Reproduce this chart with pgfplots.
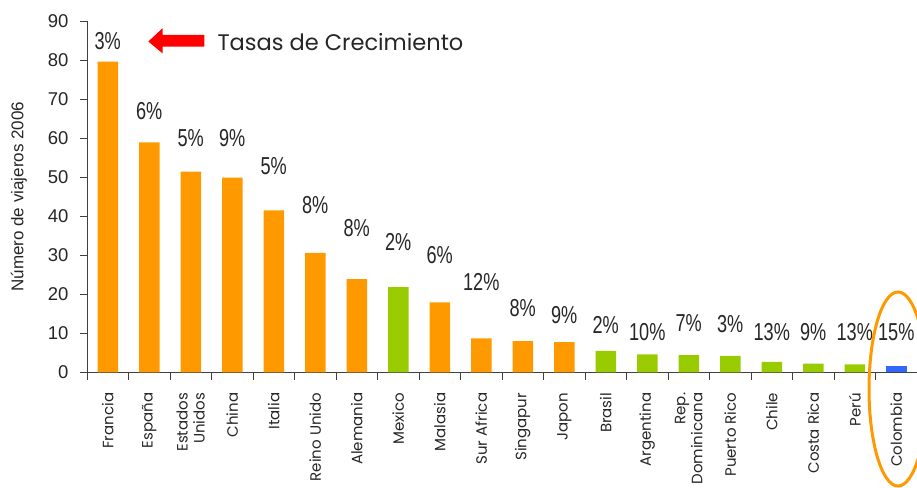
\documentclass[border=0pt]{standalone}
\usepackage{fontspec}
\setmainfont{Liberation Sans}
\newfontfamily\gothic{Poppins}
\newfontfamily\narrowfont[FakeStretch=0.74]{Liberation Sans}
\usepackage{pgfplots}
\usepackage{pgfplotstable}
\pgfplotsset{compat=1.18}
\definecolor{corange}{HTML}{FF9900}
\definecolor{cgreen}{HTML}{99CC00}
\definecolor{cblue}{HTML}{3366FF}
\definecolor{axisgray}{HTML}{404040}
\definecolor{txt}{HTML}{262626}

% viajeros 2006 (millones)
\pgfplotstableread{
x y
0 79.6
1 58.9
2 51.4
3 49.9
4 41.5
5 30.6
6 23.9
8 17.9
9 8.7
10 8.0
11 7.7
}\orangedata
\pgfplotstableread{
x y
7 21.8
12 5.5
13 4.6
14 4.4
15 4.2
16 2.7
17 2.2
18 2.0
}\greendata
\pgfplotstableread{
x y
19 1.5
}\bluedata
% tasas de crecimiento: posicion de la etiqueta
\pgfplotstableread{
x y p
0 84.8 3
1 66.8 6
2 59.9 5
3 59.9 9
4 52.9 5
5 42.9 8
6 36.9 8
7 33.5 2
8 30.1 6
9 23.1 12
10 16.4 8
11 14.7 9
12 12.1 2
13 10.4 10
14 12.6 7
15 12.4 3
16 10.4 13
17 10.4 9
18 10.4 13
19 10.4 15
}\ratedata

\begin{document}
\begin{tikzpicture}
\begin{axis}[
  at={(87pt,114.7pt)}, anchor=south west,
  scale only axis, width=830pt, height=351.3pt,
  xmin=-0.5, xmax=19.5, ymin=0, ymax=90,
  axis x line=bottom, axis y line=left,
  axis line style={axisgray, line width=0.8pt, -},
  ytick={0,10,...,90},
  xtick={0,...,19},
  xticklabels={Francia, España, {Estados\\Unidos}, China, Italia, Reino Unido, Alemania, Mexico, Malasia, Sur Africa, Singapur, Japon, Brasil, Argentina, {Rep.\\Dominicana}, Puerto Rico, Chile, Costa Rica, Perú, Colombia},
  minor xtick={-0.5,0.5,...,19.5},
  tick align=outside,
  major x tick style={draw=none},
  minor x tick style={axisgray, line width=0.8pt},
  y tick style={axisgray, line width=0.8pt},
  minor tick length=8pt,
  major tick length=7pt,
  /pgf/number format/assume math mode=true,
  y tick label style={font=\fontsize{18.5}{21}\selectfont, text=txt, xshift=-8pt},
  xticklabel shift=10pt,
  x tick label style={rotate=90, anchor=east, align=right, text=txt,
    font=\gothic\fontsize{15}{17}\selectfont},
  ylabel={Número de viajeros 2006},
  ylabel style={at={(axis description cs:-0.082,0.5)}, anchor=center,
    font=\fontsize{17}{20}\selectfont, text=txt},
  clip=false,
]
\addplot[ybar, bar width=20.5pt, bar shift=0pt, fill=corange, draw=none] table[x=x,y=y] {\orangedata};
\addplot[ybar, bar width=20.5pt, bar shift=0pt, fill=cgreen, draw=none] table[x=x,y=y] {\greendata};
\addplot[ybar, bar width=20.5pt, bar shift=0pt, fill=cblue, draw=none] table[x=x,y=y] {\bluedata};
\addplot[only marks, mark=none,
  point meta=explicit symbolic,
  nodes near coords={\pgfplotspointmeta\%},
  nodes near coords style={anchor=center, text=txt,
    font=\narrowfont\fontsize{24.5}{29}\selectfont}]
  table[x=x,y=y,meta=p] {\ratedata};
\end{axis}
\fill[red] (148.3pt,445.5pt) -- (162.5pt,458.7pt) -- (162.5pt,452pt) -- (204.3pt,452pt)
  -- (204.3pt,440.3pt) -- (162.5pt,440.3pt) -- (162.5pt,433.7pt) -- cycle;
\node[anchor=west, font=\gothic\fontsize{22.5}{26}\selectfont, text=txt] at (214pt,445pt) {Tasas de Crecimiento};
\draw[corange, line width=3pt] (898pt,98pt) ellipse [x radius=29pt, y radius=97pt];
\pgfresetboundingbox
\path[use as bounding box] (0,0) rectangle (917pt,487pt);
\end{tikzpicture}
\end{document}
